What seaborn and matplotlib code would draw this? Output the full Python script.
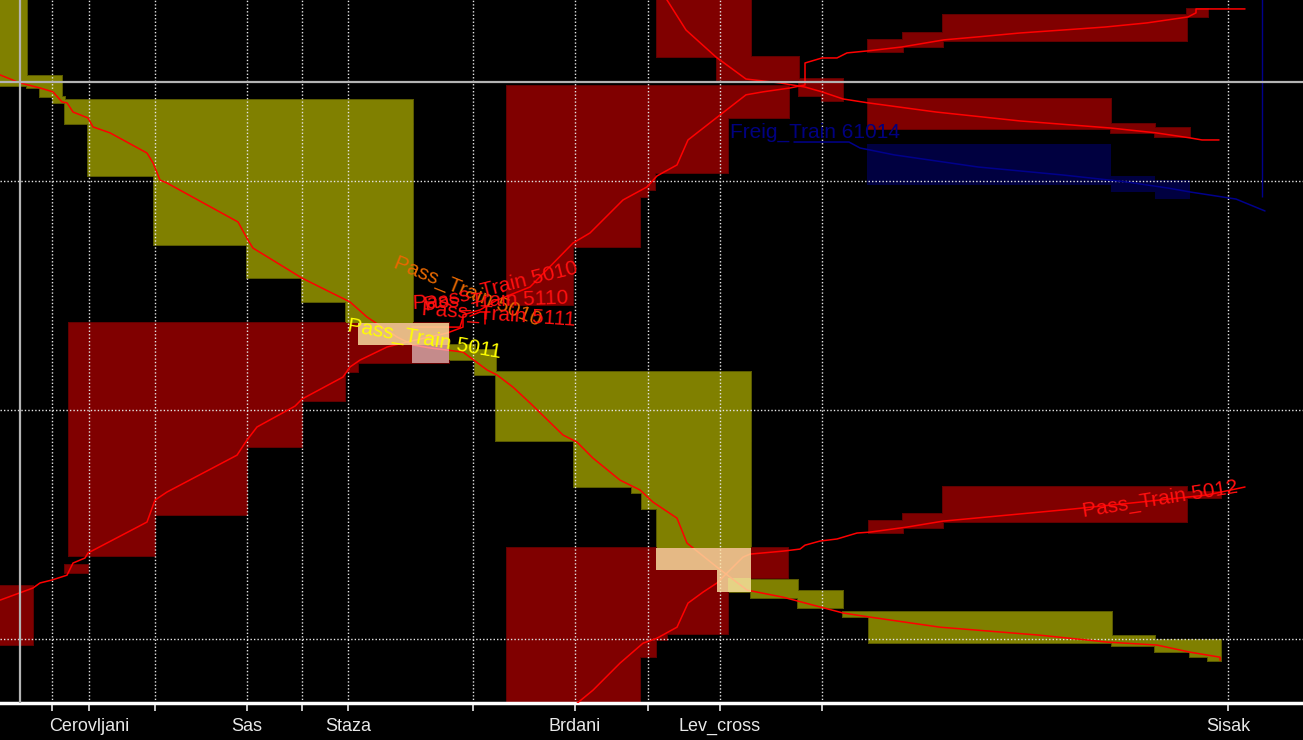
import matplotlib
matplotlib.use("Agg")
import matplotlib.pyplot as plt
import seaborn as sns

sns.set_theme(style="dark", rc={"axes.facecolor": "black", "figure.facecolor": "black"})
plt.rcParams["font.family"] = ["Liberation Sans Narrow", "Liberation Sans", "DejaVu Sans"]

# ── line geometry: km along the line, time in minutes ─────────────────────────

station_km = [2.08, 3.56, 6.2, 9.88, 12.08, 13.92, 18.92, 23.0, 25.92, 28.8, 32.88, 49.12]
station_names = ["", "Cerovljani", "", "Sas", "", "Staza", "", "Brdani", "", "Lev_cross", "", "Sisak"]
grid_min = [10, 20, 30]
cursor_km = 0.8
cursor_min = 5.68
KM_MAX = 52.12
T_TOP, T_BOTTOM = 2.10, 32.79

# Pass_Train 5011 (olive blocks, running down the graph)
t5011_km = [0, 0.8, 1.6, 2.12, 2.48, 2.68, 2.92, 3.52, 3.72, 4.4, 5.88, 6.12, 6.4, 6.68,
            9.52, 9.92, 10.12, 12.08, 13.2, 14.0, 14.68, 15.88, 16.52, 17.2, 18.52, 19.48,
            19.88, 20.52, 21.2, 22.52, 23.08, 23.72, 24.8, 25.6, 26.12, 27.08, 27.48, 28.68,
            29.88, 31.32, 33.72, 34.8, 37.6, 41.6, 44.28, 46.28, 47.6, 48.8, 48.8]
t5011_min = [5.37, 5.72, 5.94, 6.11, 6.55, 6.59, 6.99, 7.25, 7.64, 7.90, 8.78, 9.21, 9.96, 10.09,
             11.79, 12.58, 12.93, 14.24, 14.85, 15.28, 15.94, 16.81, 17.16, 17.29, 17.47, 18.25,
             18.47, 19.00, 19.69, 21.09, 21.40, 22.10, 23.06, 23.49, 24.02, 24.72, 25.81, 26.86,
             27.86, 28.17, 28.86, 29.04, 29.48, 29.83, 30.13, 30.26, 30.57, 30.79, 30.92]
blocks_5011 = [(0, 1.08, 1.5, 5.85), (1.08, 2.48, 5.42, 5.94), (1.6, 2.48, 5.94, 6.33),
               (2.12, 2.6, 6.33, 6.59), (2.6, 16.52, 6.46, 7.51), (3.52, 16.52, 7.51, 9.78),
               (6.16, 16.52, 9.78, 12.79), (9.88, 16.52, 12.79, 14.24), (12.08, 16.52, 14.24, 15.28),
               (13.84, 16.52, 15.28, 16.20), (14.32, 17.96, 16.20, 17.16), (17.96, 19.0, 17.16, 17.82),
               (19.0, 19.84, 17.38, 18.47), (19.84, 30.04, 18.34, 21.35), (22.96, 30.04, 21.35, 23.36),
               (25.28, 30.04, 23.36, 23.62), (25.68, 30.04, 23.62, 24.32), (26.28, 30.04, 24.32, 26.03),
               (26.24, 30.04, 26.03, 26.99), (28.68, 30.04, 26.99, 27.95), (30.04, 31.92, 27.42, 28.21),
               (31.92, 33.72, 27.90, 28.65), (33.72, 34.76, 28.82, 29.04), (34.76, 44.48, 28.82, 30.18),
               (44.48, 46.2, 29.87, 30.31), (46.2, 48.84, 30.04, 30.57), (47.6, 48.84, 30.57, 30.79),
               (48.32, 48.84, 30.79, 30.96)]

# Pass_Train 5010 (red blocks, running up the graph)
t5010_km = [0, 1.32, 1.6, 2.08, 2.68, 2.92, 3.4, 3.52, 5.88, 6.2, 6.68, 9.48, 9.88, 10.28, 11.8,
            12.08, 13.72, 14.0, 14.4, 15.48, 16.28, 17.88, 18.52, 18.52, 19.2, 19.88, 21.2, 22.92,
            23.6, 24.92, 25.88, 26.28, 27.08, 27.52, 28.8, 29.84, 30.52, 31.6, 32.2, 32.2, 32.88,
            33.48, 33.88, 34.72, 36.08, 37.76, 39.12, 40.8, 42.52, 44.2, 45.88, 47.52, 47.84,
            47.84, 49.8]
t5010_min = [28.30, 27.77, 27.55, 27.42, 27.21, 26.68, 26.46, 26.24, 24.89, 23.93, 23.58, 21.97,
             21.31, 20.74, 19.83, 19.52, 18.56, 18.12, 17.82, 17.25, 17.03, 16.64, 16.38, 15.85,
             15.63, 15.20, 14.63, 12.71, 12.27, 10.83, 10.26, 9.78, 9.30, 8.21, 7.12, 6.24, 6.11,
             5.94, 5.81, 4.85, 4.63, 4.63, 4.41, 4.32, 4.15, 3.84, 3.71, 3.54, 3.41, 3.28, 3.10,
             2.84, 2.66, 2.49, 2.49]
blocks_5010 = [(0, 1.32, 27.69, 30.26), (2.6, 3.52, 26.77, 27.12), (2.76, 6.2, 16.20, 26.38),
               (6.2, 9.88, 16.20, 24.59), (9.88, 12.08, 16.20, 21.62), (12.08, 13.8, 16.20, 19.61),
               (13.8, 14.32, 16.20, 18.34), (14.32, 17.96, 16.20, 17.95), (20.28, 22.92, 5.85, 15.41),
               (22.92, 25.6, 5.85, 12.88), (25.6, 25.92, 5.85, 10.70), (25.92, 26.2, 5.85, 10.39),
               (26.2, 29.12, 5.85, 9.65), (29.12, 31.56, 5.85, 7.25), (34.72, 36.12, 3.84, 4.37),
               (36.12, 37.72, 3.54, 4.15), (37.72, 47.48, 2.75, 3.89), (47.48, 48.32, 2.49, 2.84)]

# train entering at the top (red blocks, running down)
t5009_km = [26.4, 26.68, 27.44, 28.64, 29.84, 31.2, 32.2, 32.88, 33.72, 34.72, 37.44, 40.8,
            44.44, 46.24, 47.6, 48.08, 48.76]
t5009_min = [1.6, 2.10, 3.41, 4.59, 5.55, 5.72, 5.90, 6.11, 6.42, 6.59, 6.99, 7.38, 7.69, 7.90,
             8.12, 8.21, 8.21]
blocks_5009 = [(26.28, 30.04, 1.5, 4.59), (28.68, 31.96, 4.59, 5.59), (31.96, 33.72, 5.55, 6.29),
               (32.88, 33.72, 6.29, 6.51), (34.72, 44.44, 6.42, 7.73), (44.44, 46.2, 7.51, 7.90),
               (46.2, 47.6, 7.69, 8.08)]

# Freig_Train 61014
t61014_km = [31.76, 33.96, 34.4, 35.76, 39.12, 42.52, 45.04, 46.72, 47.6, 49.44, 50.6]
t61014_min = [8.30, 8.30, 8.56, 8.86, 9.39, 9.74, 10.04, 10.31, 10.48, 10.79, 11.31]
blocks_61014 = [(34.68, 44.44, 8.38, 10.17), (44.44, 46.2, 9.78, 10.48), (46.2, 47.6, 9.96, 10.79)]
freight_mark_km = 50.48
freight_mark_min = (1.5, 10.70)

# Pass_Train 5012 (red blocks, running up)
t5012_km = [23.04, 23.72, 24.8, 25.72, 26.28, 27.08, 27.52, 28.12, 28.68, 29.72, 30.0, 31.32,
            32.0, 32.2, 32.8, 33.48, 34.28, 34.8, 36.28, 37.72, 40.28, 42.92, 45.6, 48.28, 49.8]
t5012_min = [32.84, 32.23, 31.05, 30.18, 29.96, 29.48, 28.43, 27.95, 27.55, 26.42, 26.29, 26.16,
             26.07, 25.90, 25.72, 25.63, 25.37, 25.33, 25.11, 24.85, 24.59, 24.32, 24.02, 23.71,
             23.36]
blocks_5012 = [(20.28, 25.6, 26.03, 33.0), (25.6, 26.24, 26.03, 30.79), (26.24, 26.68, 26.03, 30.04),
               (26.68, 29.12, 26.03, 29.78), (29.12, 31.52, 26.03, 27.34), (34.76, 36.12, 24.85, 25.37),
               (36.12, 37.72, 24.54, 25.15), (37.72, 47.48, 23.36, 24.89), (47.48, 48.84, 23.58, 23.84)]

# short terminating paths at the station past Staza
stub_5110_km = [16.48, 18.4, 18.52]
stub_5110_min = [16.38, 16.38, 15.94]
stub_5111_km = [18.8, 19.2, 19.6]
stub_5111_min = [15.90, 15.72, 15.72]
stub_mark_km = [19.4, 19.4]
stub_mark_min = [15.72, 16.24]

# block conflicts
conflicts_beige = [(14.32, 17.96, 16.20, 17.16), (26.24, 30.04, 26.03, 26.99), (28.68, 30.04, 26.99, 27.95)]
conflicts_pink = [(16.48, 17.96, 17.16, 17.95)]

# train labels: text, km, min, rotation, colour
label_text = ["Pass_Train 5010", "Pass_Train 5110", "Pass_Train 5111", "Pass_Train 5010",
              "Pass_Train 5011", "Freig_Train 61014", "Pass_Train 5012"]
label_km = [15.8, 16.52, 16.85, 17.0, 13.92, 29.2, 43.3]
label_min = [13.54, 15.35, 15.6, 15.45, 16.33, 7.90, 24.45]
label_rot = [-22, 2, -4, 14, -10, 0, 9]
label_color = ["#e86800", "#ff1010", "#ff1010", "#ff1010", "#ffff00", "#000080", "#ff1010"]

OLIVE, DARK_RED, NAVY = "#808000", "#800000", "#000040"


def draw_blocks(ax, blocks, color, edge=None, alpha=1.0, z=1.5):
    # outline pass first (below), then the fills, so only the union outline shows
    if edge is not None:
        for k0, k1, t0, t1 in blocks:
            ax.bar(k0, t1 - t0, width=k1 - k0, bottom=t0, align="edge", color=edge,
                   edgecolor=edge, linewidth=1.4, zorder=z - 0.2)
    for k0, k1, t0, t1 in blocks:
        ax.bar(k0, t1 - t0, width=k1 - k0, bottom=t0, align="edge", color=color,
               linewidth=0, alpha=alpha, zorder=z)


def draw_path(ax, km, mn, color, lw=1.1):
    sns.lineplot(x=km, y=mn, sort=False, estimator=None, color=color, linewidth=lw,
                 ax=ax, zorder=4, legend=False)


def main():
    fig = plt.figure(figsize=(13.03, 7.40), dpi=100)
    ax = fig.add_axes([0, 37 / 740, 1, 703 / 740])
    ax.set_facecolor("black")

    draw_blocks(ax, blocks_5011, OLIVE, "#5c5c00")
    draw_blocks(ax, blocks_5010, DARK_RED, "#640000")
    draw_blocks(ax, blocks_5009, DARK_RED, "#640000")
    draw_blocks(ax, blocks_5012, DARK_RED, "#640000")
    draw_blocks(ax, blocks_61014, NAVY)

    for k in station_km:
        ax.axvline(k, color="#e6e6e6", linewidth=1.0, linestyle=(0, (1, 1.5)), zorder=2)
    for t in grid_min:
        ax.axhline(t, color="#e6e6e6", linewidth=1.0, linestyle=(0, (1, 1.5)), zorder=2)

    draw_path(ax, t5011_km, t5011_min, "#ff0000")
    draw_path(ax, t5010_km, t5010_min, "#ff0000")
    draw_path(ax, t5009_km, t5009_min, "#ff0000")
    draw_path(ax, t5012_km, t5012_min, "#ff0000")
    draw_path(ax, t61014_km, t61014_min, "#00008c")
    draw_path(ax, stub_5110_km, stub_5110_min, "#ff0000")
    draw_path(ax, stub_5111_km, stub_5111_min, "#ff0000")
    draw_path(ax, stub_mark_km, stub_mark_min, "#ff0000")
    ax.vlines(freight_mark_km, *freight_mark_min, color="#00008c", linewidth=1.0, zorder=4)

    draw_blocks(ax, conflicts_beige, "#ffe8a8", alpha=0.8, z=5)
    draw_blocks(ax, conflicts_pink, "#ffffff", alpha=0.55, z=5)

    for txt, k, t, rot, col in zip(label_text, label_km, label_min, label_rot, label_color):
        ax.text(k, t, txt, color=col, fontsize=15, rotation=rot, rotation_mode="anchor",
                ha="left", va="center", zorder=6)

    ax.axvline(cursor_km, color="#b4b4b4", linewidth=1.6, zorder=7)
    ax.axhline(cursor_min, color="#b4b4b4", linewidth=1.6, zorder=7)

    ax.set_xlim(0, KM_MAX)
    ax.set_ylim(T_BOTTOM, T_TOP)
    ax.set_yticks([])
    ax.set_xticks(station_km)
    ax.set_xticklabels(station_names)
    ax.tick_params(axis="x", bottom=True, colors="#e8e8e8", length=6, width=1.2,
                   direction="out", labelsize=13, pad=5)
    ax.grid(False)
    for side in ["top", "left", "right"]:
        ax.spines[side].set_visible(False)
    ax.spines["bottom"].set_color("white")
    ax.spines["bottom"].set_linewidth(2.5)
    ax.set_xlabel("")
    ax.set_ylabel("")

    fig.savefig("out.png", dpi=100, facecolor="black")
    plt.close(fig)


if __name__ == "__main__":
    main()
